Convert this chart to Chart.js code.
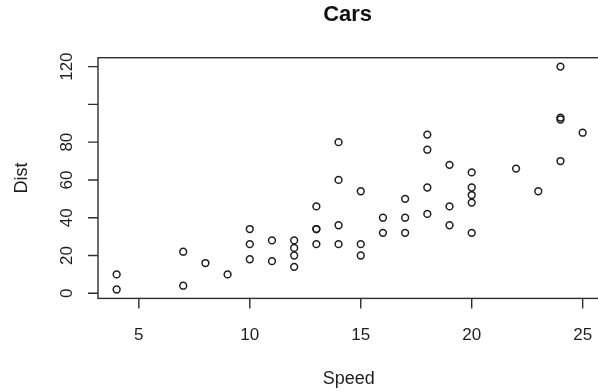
<!DOCTYPE html>
<html>
<head>
<meta charset="utf-8">
<script src="https://cdn.jsdelivr.net/npm/chart.js@4/dist/chart.umd.min.js"></script>
<style>
  html, body { margin: 0; padding: 0; background: #fff; }
  #wrap { width: 598px; height: 392px; overflow: hidden; position: relative; }
  #chart { position: absolute; left: 0; top: 0; }
</style>
</head>
<body>
<div id="wrap"><canvas id="chart" width="612" height="392"></canvas></div>
<script>
// cars dataset (speed vs stopping distance)
const speed = [4, 4, 7, 7, 8, 9, 10, 10, 10, 11, 11, 12, 12, 12, 12, 13, 13, 13, 13, 14, 14, 14, 14, 15, 15, 15, 16, 16, 17, 17, 17, 18, 18, 18, 18, 19, 19, 19, 20, 20, 20, 20, 20, 22, 23, 24, 24, 24, 24, 25];
const dist = [2, 10, 4, 22, 16, 10, 18, 26, 34, 17, 28, 14, 20, 24, 28, 26, 34, 34, 46, 26, 36, 60, 80, 20, 26, 54, 32, 40, 32, 40, 50, 42, 56, 76, 84, 36, 46, 68, 32, 48, 52, 56, 64, 66, 54, 70, 92, 93, 120, 85];
const xTicks = [5, 10, 15, 20, 25];
const yTicks = [0, 20, 40, 60, 80, 100, 120];
const yLabels = ['0', '20', '40', '60', '80', '', '120'];

const INK = '#1e1e1e';
const FONT = '"Liberation Sans", Arial, sans-serif';

// R-style frame, axes and labels drawn from the chart's own scales
const rAxes = {
    id: 'rAxes',
    afterDraw(chart) {
        const ctx = chart.ctx;
        const a = chart.chartArea;
        const xs = chart.scales.x, ys = chart.scales.y;
        ctx.save();
        ctx.strokeStyle = '#2e2e2e';
        ctx.lineWidth = 1.4;
        ctx.strokeRect(a.left, a.top, a.right - a.left, a.bottom - a.top);

        // y axis
        ctx.fillStyle = INK;
        ctx.font = '17px ' + FONT;
        ctx.beginPath();
        yTicks.forEach(v => {
            const py = ys.getPixelForValue(v);
            ctx.moveTo(a.left, py);
            ctx.lineTo(a.left - 10, py);
        });
        ctx.stroke();
        yTicks.forEach((v, i) => {
            if (!yLabels[i]) return;
            const py = ys.getPixelForValue(v);
            ctx.save();
            ctx.translate(72, py);
            ctx.rotate(-Math.PI / 2);
            ctx.textAlign = 'center';
            ctx.textBaseline = 'alphabetic';
            ctx.fillText(yLabels[i], 0, 0);
            ctx.restore();
        });

        // x axis
        ctx.beginPath();
        xTicks.forEach(v => {
            const px = xs.getPixelForValue(v);
            ctx.moveTo(px, a.bottom);
            ctx.lineTo(px, a.bottom + 10);
        });
        ctx.stroke();
        ctx.textAlign = 'center';
        ctx.textBaseline = 'alphabetic';
        xTicks.forEach(v => {
            ctx.fillText(String(v), xs.getPixelForValue(v), 340);
        });

        const cx = (a.left + a.right) / 2;
        ctx.font = '18px ' + FONT;
        ctx.fillText('Speed', cx - 1, 384);
        ctx.save();
        ctx.translate(27, (a.top + a.bottom) / 2);
        ctx.rotate(-Math.PI / 2);
        ctx.fillText('Dist', 0, 0);
        ctx.restore();

        ctx.font = 'bold 22px ' + FONT;
        ctx.fillStyle = '#111';
        ctx.fillText('Cars', cx - 2, 21);
        ctx.restore();
    }
};

new Chart(document.getElementById('chart').getContext('2d'), {
    type: 'scatter',
    data: {
        datasets: [{
            data: speed.map((s, i) => ({ x: s, y: dist[i] })),
            pointStyle: 'circle',
            pointRadius: 3.4,
            pointBorderWidth: 1.5,
            pointBorderColor: INK,
            pointBackgroundColor: 'rgba(0,0,0,0)'
        }]
    },
    options: {
        responsive: false,
        animation: false,
        layout: { padding: { left: 98, right: 10.7, top: 57.7, bottom: 93.6 } },
        plugins: { legend: { display: false }, tooltip: { enabled: false } },
        scales: {
            x: { type: 'linear', min: 3.16, max: 25.84, display: false },
            y: { type: 'linear', min: -2.72, max: 124.72, display: false }
        }
    },
    plugins: [rAxes]
});
</script>
</body>
</html>
